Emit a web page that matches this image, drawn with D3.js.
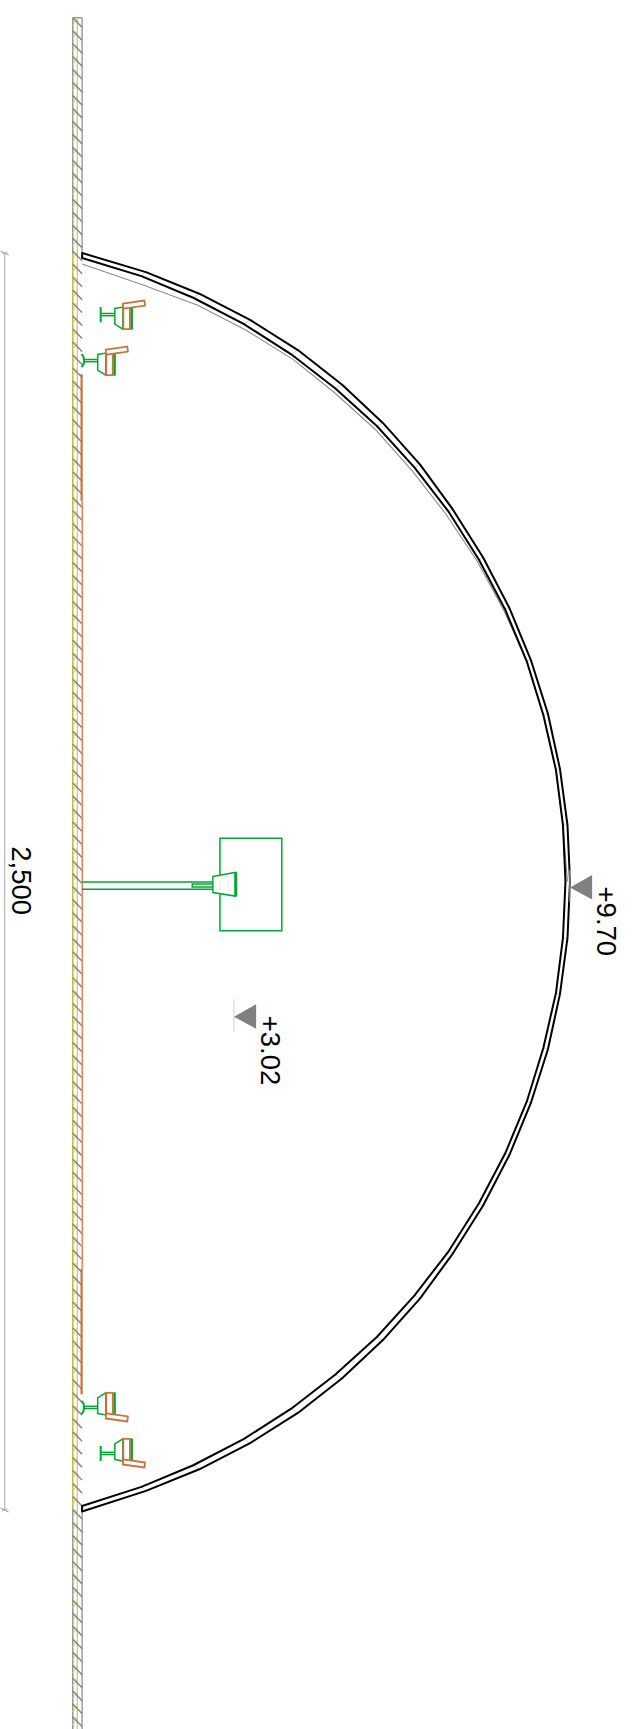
<!DOCTYPE html>
<meta charset="utf-8">
<style>
body { margin: 0; background: #fff; }
svg { display: block; }
text { font-family: "Liberation Sans", Arial, sans-serif; font-size: 27.5px; fill: #000; }
.arch { fill: none; stroke: #000; stroke-width: 2px; stroke-linejoin: round; }
.arch-grey { fill: none; stroke: #8c8c8c; stroke-width: 1.1px; }
.rib { stroke: #d0d0d0; stroke-width: 1px; }
.green { fill: none; stroke: #00a832; stroke-width: 1.5px; }
.orange { fill: #fff; stroke: #c8743f; stroke-width: 1.8px; stroke-linejoin: round; }
.hatch { stroke: #808080; stroke-width: 1.4px; }
</style>
<svg width="632" height="1729"></svg>
<script src="https://d3js.org/d3.v7.min.js"></script>
<script>
// section: station along the wall (m), level above wall face (m)
var outerStation = [0, 0.38, 0.81, 1.33, 1.93, 2.62, 3.38, 4.21, 5.10, 6.05, 7.05, 8.09, 9.16, 10.26, 11.38, 12.5,
  13.62, 14.74, 15.84, 16.91, 17.95, 18.95, 19.90, 20.79, 21.62, 22.38, 23.07, 23.67, 24.19, 24.62, 25.03];
var outerLevel = [0, 1.27, 2.33, 3.34, 4.29, 5.17, 5.98, 6.72, 7.37, 7.97, 8.49, 8.92, 9.26, 9.50, 9.65, 9.70,
  9.65, 9.50, 9.26, 8.92, 8.49, 7.97, 7.37, 6.72, 5.98, 5.17, 4.29, 3.34, 2.33, 1.27, 0];
var innerStation = [0.10, 0.46, 0.89, 1.41, 2.01, 2.69, 3.44, 4.27, 5.15, 6.10, 7.09, 8.12, 9.19, 10.28, 11.38, 12.5,
  13.62, 14.72, 15.81, 16.88, 17.91, 18.90, 19.85, 20.73, 21.56, 22.31, 22.99, 23.59, 24.11, 24.54, 24.92];
var innerLevel = [0, 1.18, 2.21, 3.21, 4.15, 5.03, 5.86, 6.61, 7.29, 7.89, 8.41, 8.84, 9.17, 9.42, 9.56, 9.61,
  9.56, 9.42, 9.17, 8.84, 8.41, 7.89, 7.29, 6.61, 5.86, 5.03, 4.15, 3.21, 2.21, 1.18, 0];
var greyStation = [0.22, 0.63, 1.04, 1.54, 2.12, 2.78, 3.51, 4.33, 5.19, 6.12, 7.10, 8.12, 9.19, 10.28, 11.38, 12.5];
var greyLevel = [0, 1.20, 2.30, 3.27, 4.20, 5.02, 5.83, 6.56, 7.23, 7.85, 8.38, 8.84, 9.17, 9.42, 9.56, 9.65];

var levelValues = [9.70, 3.02];
var levelStations = [12.59, 15.16];
var spanLabel = "2,500";

// lamps: position of the end cap
var lampStations = [1.225, 2.14, 22.96, 23.875];
var lampLevels = [0.37, 0.03, 0.03, 0.37];
var lampSide = [1, 1, -1, -1];
var lampCaps = [[[0.02, -0.13], [0, -0.13], [0, 0.13], [0.02, 0.13]],
  [[-0.04, -0.13], [0, -0.07], [0.01, 0], [0, 0.07], [-0.04, 0.13]],
  [[-0.04, -0.13], [0, -0.07], [0.01, 0], [0, 0.07], [-0.04, 0.13]],
  [[0.02, -0.13], [0, -0.13], [0, 0.13], [0.02, 0.13]]];
var lampBody = [[0.28, -0.12], [0.44, -0.15], [0.44, 0.29], [0.28, 0.19]];
var lampHood = [[0.45, -0.15], [0.58, -0.15], [0.58, 0.29], [0.45, 0.29]];
var lampVisor = [[0.44, -0.22], [0.87, -0.28], [0.88, -0.18], [0.45, -0.12]];

// central screen, as [station, level]
var screenBox = [[11.64, 2.74], [11.64, 3.97], [13.48, 3.97], [13.48, 2.74]];
var horn = [[12.40, 2.60], [12.32, 3.04], [12.79, 3.04], [12.72, 2.60]];

var svg = d3.select("svg");

var x = d3.scaleLinear().domain([0, 10]).range([82.1, 585.1]);
var y = d3.scaleLinear().domain([0, 25]).range([253, 1510]);

var line = d3.line().x(function(d) { return x(d[1]); }).y(function(d) { return y(d[0]); });
var shape = d3.line().x(function(d) { return x(d[1]); }).y(function(d) { return y(d[0]); }).curve(d3.curveLinearClosed);

function seg(g, cls, l1, s1, l2, s2) {
  return g.append("line").attr("class", cls)
    .attr("x1", x(l1)).attr("y1", y(s1))
    .attr("x2", x(l2)).attr("y2", y(s2));
}

// wall
var wall = svg.append("g");
var wallTop = -4.68, wallBottom = 29.4;
var wallLeft = -0.185, wallMid = -0.095, wallRight = 0;

[[wallTop, 0, "#8f8f8f"], [25, wallBottom, "#8f8f8f"], [0, 25, "#b4b43a"]].forEach(function(d) {
  seg(wall, "wall", wallLeft, d[0], wallLeft, d[1]).attr("stroke", d[2]).attr("stroke-width", 1.4);
});
seg(wall, "wall", wallMid, wallTop, wallMid, wallBottom).attr("stroke", "#cfcf6e").attr("stroke-width", 1.3);
[[wallTop, 0], [25, wallBottom]].forEach(function(d) {
  seg(wall, "wall", wallRight, d[0], wallRight, d[1]).attr("stroke", "#8f8f8f").attr("stroke-width", 1.3);
});
seg(wall, "wall", wallLeft, wallTop, wallRight, wallTop).attr("stroke", "#8f8f8f").attr("stroke-width", 1.3);

d3.range(wallTop, wallBottom, 0.258).forEach(function(s) {
  seg(wall, "zig", wallMid, s, wallLeft, s + 0.16).attr("stroke", "#d8d880").attr("stroke-width", 1.2);
  seg(wall, "hatch", wallLeft, s, wallRight, s + 0.19);
});

// orange lining: heavier at both ends, lighter along the middle
[[2.41, 4.93], [20.2, 22.7]].forEach(function(d) {
  seg(wall, "lining", -0.01, d[0], -0.01, d[1]).attr("stroke", "#c8743f").attr("stroke-width", 2.2);
});
seg(wall, "lining", 0.005, 4.93, 0.005, 20.2).attr("stroke", "#d98f62").attr("stroke-width", 1.8);

// arch, with the faint joints between the two skins
svg.append("path").attr("class", "arch-grey").attr("d", line(d3.zip(greyStation, greyLevel)));
outerStation.forEach(function(s, i) {
  seg(svg, "rib", outerLevel[i], s, innerLevel[i], innerStation[i]);
});
svg.append("path").attr("class", "arch").attr("d",
  line(d3.zip(outerStation, outerLevel).concat(d3.zip(innerStation, innerLevel).reverse())) + "Z");

// lamps
lampStations.forEach(function(s0, i) {
  var g = svg.append("g");
  var place = function(p) { return [s0 + lampSide[i] * p[1], lampLevels[i] + p[0]]; };
  g.append("path").attr("class", "green").style("stroke-width", "2px")
    .attr("d", line(lampCaps[i].map(place)));
  g.append("path").attr("class", "green").attr("d", line([[0, -0.022], [0.28, -0.022]].map(place)));
  g.append("path").attr("class", "green").attr("d", line([[0, 0.022], [0.28, 0.022]].map(place)));
  g.append("path").attr("class", "green").attr("d", shape(lampBody.map(place)));
  g.append("path").attr("class", "green").style("stroke-width", "2.6px")
    .attr("d", line([[0.615, -0.14], [0.615, 0.30]].map(place)));
  g.append("path").attr("class", "orange").attr("d", shape(lampHood.map(place)));
  g.append("path").attr("class", "orange").attr("d", shape(lampVisor.map(place)));
});

// screen and arm
var screen = svg.append("g");
screen.append("path").attr("class", "green").attr("d", shape(screenBox));
seg(screen, "green", 0, 12.51, 2.60, 12.51);
seg(screen, "green", 0, 12.655, 2.60, 12.655);
screen.append("path").attr("class", "green")
  .attr("d", shape([[12.55, 2.19], [12.55, 2.60], [12.61, 2.60], [12.61, 2.19]]));
screen.append("path").attr("class", "green").style("fill", "#fff").attr("d", shape(horn));
[2.74, 2.9].forEach(function(l) {
  seg(screen, "horn-dash", l, 12.4, l, 12.72).attr("stroke", "#d4d4d4").attr("stroke-dasharray", "2,2");
});
screen.append("path").attr("class", "green").style("stroke-width", "2.4px")
  .attr("d", line([[12.31, 3.06], [12.80, 3.06]]));

// level markers
var markers = svg.selectAll(".level").data(levelValues).enter().append("g").attr("class", "level");
markers.append("line")
  .attr("x1", function(d) { return x(d); }).attr("x2", function(d) { return x(d); })
  .attr("y1", function(d, i) { return y(levelStations[i] - 0.32); })
  .attr("y2", function(d, i) { return y(levelStations[i] + 0.32); })
  .attr("stroke", "#cfcfcf").attr("stroke-width", 1);
markers.append("path").attr("fill", "#808080")
  .attr("d", function(d, i) {
    var s = levelStations[i];
    return shape([[s + 0.03, d], [s - 0.22, d + 0.44], [s + 0.27, d + 0.44]]);
  });
markers.append("text")
  .attr("transform", function(d, i) { return "translate(" + (x(d) + 26.5) + "," + y(levelStations[i] + 0.01) + ") rotate(90)"; })
  .text(function(d) { return "+" + d3.format(".2f")(d); });

// span dimension
var dim = svg.append("g");
var dimLevel = -1.54;
seg(dim, "dim", dimLevel, 0, dimLevel, 25).attr("stroke", "#bdbdbd").attr("stroke-width", 1.4);
[0, 25].forEach(function(s) {
  seg(dim, "dim", dimLevel - 0.08, s - 0.04, dimLevel + 0.08, s + 0.04).attr("stroke", "#8f8f8f").attr("stroke-width", 1);
  seg(dim, "dim", dimLevel - 0.06, s + 0.02, dimLevel + 0.06, s - 0.02).attr("stroke", "#b8b8b8").attr("stroke-width", 1);
});
dim.append("text")
  .attr("transform", "translate(" + x(-1.40) + "," + y(11.8) + ") rotate(90)")
  .text(spanLabel);
</script>
